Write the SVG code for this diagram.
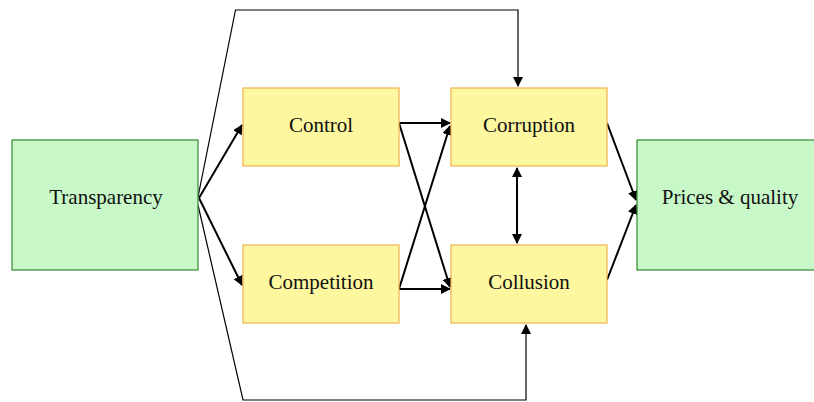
<svg xmlns="http://www.w3.org/2000/svg" width="814" height="402" viewBox="0 0 814 402">
  <style>
    .green { fill: #c8f8c8; stroke: #2f8a2f; stroke-width: 1.2; }
    .yellow { fill: #fdf7a0; stroke: #eeb24e; stroke-width: 1.2; }
    .label { font-family: "Liberation Serif", "Times New Roman", serif; font-size: 21px; fill: #111; text-anchor: middle; dominant-baseline: central; }
    .thick { stroke: #000; stroke-width: 2; fill: none; }
    .thin { stroke: #000; stroke-width: 1.2; fill: none; }
  </style>
  <defs>
    <marker id="arrowBig" viewBox="0 0 10 10" refX="9" refY="5" markerWidth="10" markerHeight="10" markerUnits="userSpaceOnUse" orient="auto-start-reverse">
      <path d="M0,0 L10,5 L0,10 z" fill="#000"/>
    </marker>
  </defs>
  <rect width="814" height="402" fill="#fff"/>

  <g id="connectors">
    <!-- bypass routes around the middle column -->
    <polyline class="thin" points="198,197 235.5,10 518,10 518,86" marker-end="url(#arrowBig)"/>
    <polyline class="thin" points="198,205 243,400 526,400 526,325" marker-end="url(#arrowBig)"/>
    <!-- transparency to the two levers -->
    <line class="thick" x1="199" y1="198" x2="242" y2="125" marker-end="url(#arrowBig)"/>
    <line class="thick" x1="199" y1="198" x2="242" y2="285" marker-end="url(#arrowBig)"/>
    <!-- levers to outcomes -->
    <line class="thick" x1="399" y1="123" x2="450" y2="123" marker-end="url(#arrowBig)"/>
    <line class="thick" x1="399" y1="289" x2="450" y2="289" marker-end="url(#arrowBig)"/>
    <line class="thick" x1="399" y1="123" x2="450" y2="287" marker-end="url(#arrowBig)"/>
    <line class="thick" x1="399" y1="289" x2="450" y2="126" marker-end="url(#arrowBig)"/>
    <!-- corruption and collusion feed each other -->
    <line class="thick" x1="517" y1="168" x2="517" y2="243" marker-start="url(#arrowBig)" marker-end="url(#arrowBig)"/>
    <!-- outcomes to prices -->
    <line class="thick" x1="607" y1="123" x2="636" y2="200" marker-end="url(#arrowBig)"/>
    <line class="thick" x1="607" y1="280" x2="636" y2="205" marker-end="url(#arrowBig)"/>
  </g>

  <g id="transparency">
    <rect class="green" x="12" y="140" width="186" height="130"/>
    <text class="label" x="106" y="197">Transparency</text>
  </g>
  <g id="control">
    <rect class="yellow" x="243" y="88" width="156" height="78"/>
    <text class="label" x="321" y="125">Control</text>
  </g>
  <g id="competition">
    <rect class="yellow" x="243" y="245" width="156" height="78"/>
    <text class="label" x="321" y="282">Competition</text>
  </g>
  <g id="corruption">
    <rect class="yellow" x="451" y="88" width="156" height="78"/>
    <text class="label" x="529" y="125">Corruption</text>
  </g>
  <g id="collusion">
    <rect class="yellow" x="451" y="245" width="156" height="78"/>
    <text class="label" x="529" y="282">Collusion</text>
  </g>
  <g id="prices-quality">
    <rect class="green" x="637" y="140" width="190" height="130"/>
    <text class="label" x="730" y="197">Prices &amp; quality</text>
  </g>
</svg>
